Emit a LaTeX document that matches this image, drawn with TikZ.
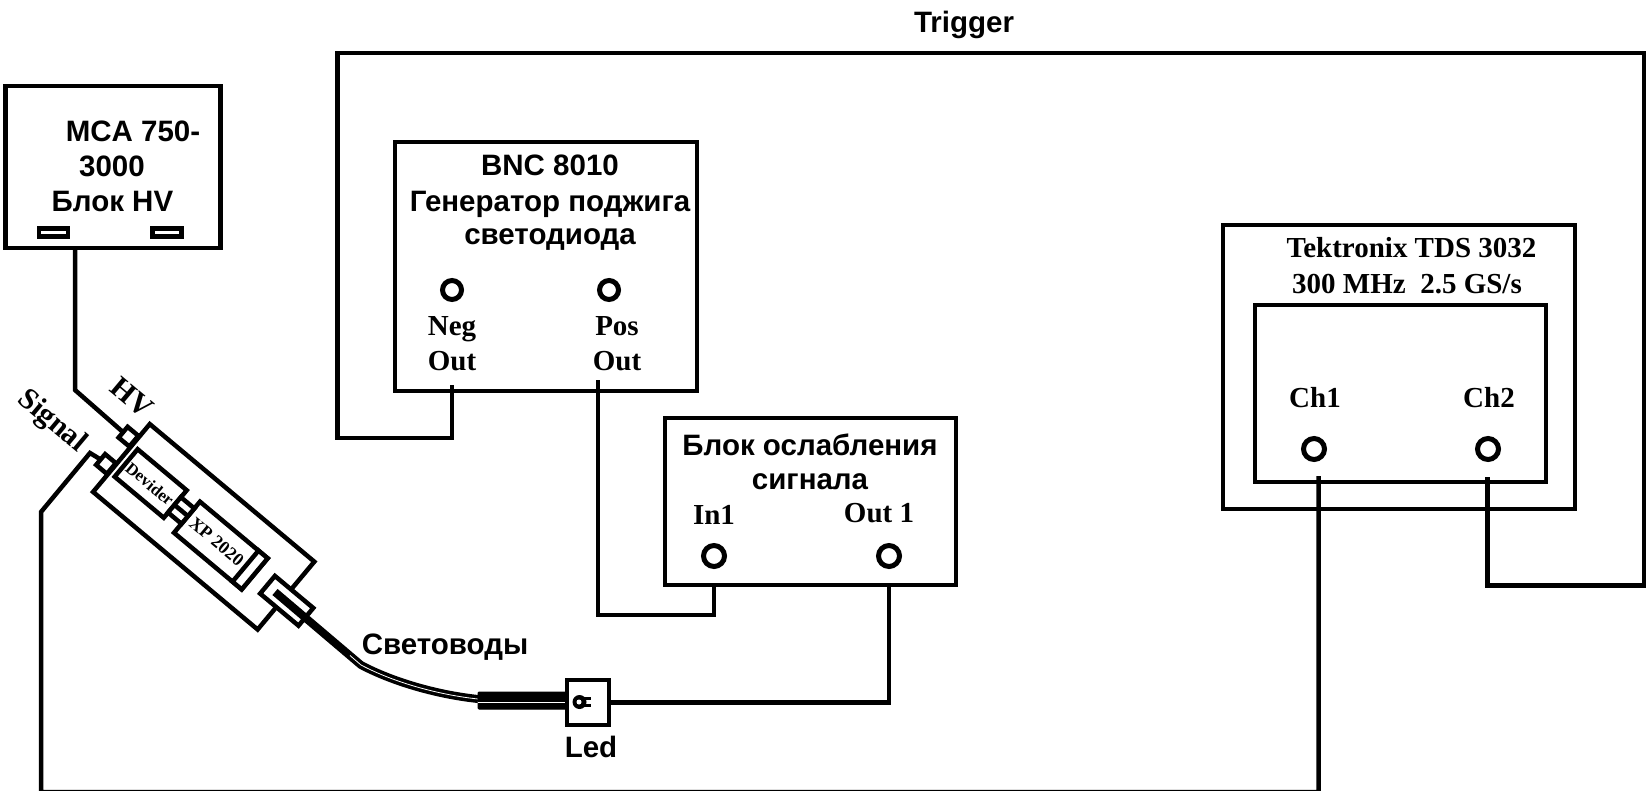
\documentclass[tikz,border=0pt]{standalone}
\usepackage{fontspec}
\setmainfont{Liberation Serif}
\setsansfont{Liberation Sans}
\begin{document}
\begin{tikzpicture}[x=1pt,y=-1pt,
  wire/.style={draw,line width=4.5pt,line join=miter},
  box/.style={draw,line width=4.5pt,anchor=north west,inner sep=0pt,outer sep=0pt,fill=white},
  tilt/.style={draw,line width=4.5pt,inner sep=0pt,outer sep=0pt,rotate=-39.9,fill=white},
  port/.style={circle,draw,line width=5pt,minimum size=21pt,inner sep=0pt,outer sep=0pt},
  sl/.style={font=\sffamily\bfseries\fontsize{29.5}{29.5}\selectfont,inner sep=0pt},
  sr/.style={font=\rmfamily\bfseries\fontsize{29}{29}\selectfont,inner sep=0pt},
  slot/.style={draw,line width=4.5pt,inner sep=0pt,minimum width=29pt,minimum height=8pt}]
\useasboundingbox (0,0) rectangle (1648,791);
% boxes
\node[box,minimum width=215pt,minimum height=162pt] (mca) at (5.5,86) {};
\node[box,minimum width=302pt,minimum height=249pt] (bnc) at (395,142) {};
\node[box,minimum width=291pt,minimum height=167pt] (att) at (665,418) {};
\node[box,minimum width=352pt,minimum height=284pt] (tek) at (1223,225) {};
\node[box,minimum width=291pt,minimum height=177pt] (scr) at (1255,305) {};
% MCA
\node[slot] (s1) at (53.5,232.5) {};
\node[slot] (s2) at (167,232.5) {};
\node[sl] (t1) at (133,131) {MCA 750-};
\node[sl] (t2) at (112,166) {3000};
\node[sl] (t3) at (112.5,201) {Блок HV};
% BNC
\node[sl] (t4) at (550,165) {BNC 8010};
\node[sl] (t5) at (550,204) {Генератор поджига};
\node[sl] (t6) at (550,239.5) {светодиода};
\node[port,minimum size=19pt] (neg) at (452,290) {};
\node[port,minimum size=19pt] (pos) at (609,290) {};
\node[sr] (t7) at (452,329) {Neg};
\node[sr] (t8) at (452,361) {Out};
\node[sr] (t9) at (617,326) {Pos};
\node[sr] (t10) at (617,361) {Out};
% attenuator
\node[sl] (t11) at (810,445) {Блок ослабления};
\node[sl] (t12) at (810,482) {сигнала};
\node[sr] (t13) at (714,515) {In1};
\node[sr] (t14) at (879,513) {Out 1};
\node[port] (in1) at (714,556) {};
\node[port] (out1) at (889,556) {};
% scope
\node[sr] (t15) at (1411.5,248) {Tektronix TDS 3032};
\node[sr] (t16) at (1407,284) {300 MHz\ \ 2.5 GS/s};
\node[sr] (t17) at (1315,398) {Ch1};
\node[sr] (t18) at (1489,398) {Ch2};
\node[port] (ch1) at (1314,449) {};
\node[port] (ch2) at (1488,449) {};
% other labels
\node[sl] (t19) at (964,25) {Trigger};
\node[sl] (t20) at (445,647) {Световоды};
\node[sl] (t21) at (591,747) {Led};
\node[rotate=-40,font=\rmfamily\bfseries\fontsize{30}{30}\selectfont,inner sep=0pt] (t22) at (131.7,398) {HV};
\node[rotate=-40,font=\rmfamily\bfseries\fontsize{30}{30}\selectfont,inner sep=0pt] (t23) at (51.7,421.7) {Signal};
% detector
\node[tilt,minimum width=214.5pt,minimum height=88.4pt] (body) at (203.7,526.8) {};
\node[tilt,minimum width=14pt,minimum height=14pt] (hv) at (128.5,436.7) {};
\node[tilt,minimum width=14pt,minimum height=14pt] (sig) at (106,464) {};
\node[tilt,minimum width=64pt,minimum height=35.8pt] (div) at (150.7,483.5) {};
\node[tilt,minimum width=88.2pt,minimum height=40.5pt] (xp) at (220.8,545.5) {};
\node[tilt,minimum width=12pt,minimum height=40.5pt] (xpend) at (250.1,570) {};
\node[tilt,minimum width=17.6pt,minimum height=20pt] (cpl) at (181.2,510.5) {};
\draw[line width=4.5pt] (cpl.west) -- (cpl.east);
\node[font=\rmfamily\bfseries\fontsize{16.8}{17}\selectfont,inner sep=0pt,rotate=-39.9] (t24) at (150,484) {Devider};
\node[font=\rmfamily\bfseries\fontsize{18}{18}\selectfont,inner sep=0pt,rotate=-39.9] (t25) at (216.7,541.7) {XP 2020};
\node[tilt,minimum width=50pt,minimum height=23pt] (fc) at (286.7,600.8) {};
% fibre
\coordinate (f0) at (275,592);
\coordinate (f1) at (361,665);
\coordinate (f2) at (478,699);
\draw[line width=8pt] (f0) -- (f1) .. controls (395,683) and (440,695) .. (f2);
\draw[white,line width=0.8pt] (350,655.5) -- (f1) .. controls (395,683) and (440,695) .. (f2);
\node[fill=black,draw,line width=1pt,rounded corners=1pt,anchor=north west,minimum width=90pt,minimum height=17pt,inner sep=0pt,outer sep=0pt] (fb) at (478,692) {};
\draw[white,line width=0.8pt] (478,702) -- (567,702);
\node[box,minimum width=42pt,minimum height=45pt] (led) at (567,680) {};
\fill (579.5,702) circle (7pt);
\fill[white] (579,702) circle (2.5pt);
\fill (584,697) rectangle (591,700);
\fill (584,704) rectangle (591,707);
% connectors
\coordinate (a1) at (75,390);
\draw[wire] (a1 |- mca.south) -- (a1) -- (hv.west);
\coordinate (b1) at (90,453);
\coordinate (b2) at (41,512);
\coordinate (b3) at (41,792);
\coordinate (b4) at (1318.7,792);
\coordinate (b5) at (1318.7,476);
\draw[wire] (sig.west) -- (b1) -- (b2) -- (b3) -- (b4) -- (b5);
\coordinate (c0) at (452,385);
\coordinate (c1) at (452,438);
\coordinate (c2) at (337.5,438);
\coordinate (c3) at (337.5,53);
\coordinate (c4) at (1644,53);
\coordinate (c5) at (1644,585.5);
\coordinate (c6) at (1487.7,585.5);
\coordinate (c7) at (1487.7,477);
\draw[wire] (c0) -- (c1) -- (c2) -- (c3) -- (c4) -- (c5) -- (c6) -- (c7);
\coordinate (d0) at (598,380);
\coordinate (d1) at (598,615);
\draw[wire] (d0) -- (d1) -- (in1 |- d1) -- (in1 |- att.south);
\draw[wire] (led.east) -- (out1 |- led.east) -- (out1 |- att.south);
\end{tikzpicture}
\end{document}
